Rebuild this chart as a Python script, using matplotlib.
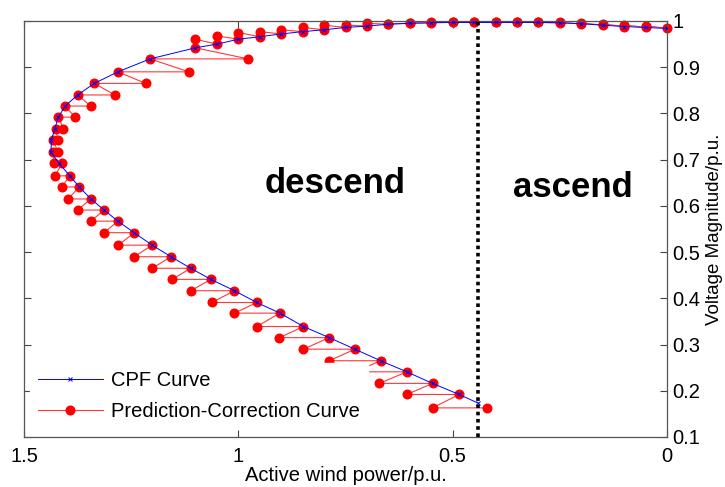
import matplotlib.pyplot as plt

plt.rcParams['font.family'] = ['Liberation Sans', 'DejaVu Sans']

# CPF curve points (active wind power, voltage)
cpf_p = [0, 0.05, 0.1, 0.15, 0.2, 0.25, 0.3, 0.35, 0.4, 0.45, 0.5, 0.55,
         0.6, 0.65, 0.7, 0.75, 0.8, 0.85, 0.9, 0.95, 1.0, 1.05, 1.1,
         1.206, 1.281, 1.336, 1.375, 1.404, 1.420, 1.428, 1.436, 1.437,
         1.418, 1.393, 1.371, 1.344, 1.313, 1.281, 1.243, 1.201, 1.157,
         1.111, 1.064, 1.009, 0.957, 0.903, 0.848, 0.788, 0.728, 0.668,
         0.607, 0.547, 0.485, 0.440]
cpf_v = [0.984, 0.986, 0.988, 0.991, 0.994, 0.996, 0.997, 0.997, 0.997,
         0.997, 0.997, 0.996, 0.995, 0.993, 0.989, 0.986, 0.981, 0.977,
         0.972, 0.966, 0.9605, 0.950, 0.942,
         0.918, 0.890, 0.865, 0.840, 0.816, 0.792, 0.767, 0.743, 0.716,
         0.692, 0.665, 0.641, 0.615, 0.591, 0.567, 0.542, 0.515, 0.490,
         0.465, 0.441, 0.4165, 0.391, 0.368, 0.339, 0.315, 0.290, 0.265,
         0.241, 0.216, 0.192, 0.173]

# prediction-correction, upper flat part (corrector at fixed P)
top_p = [0.05, 0.1, 0.15, 0.2, 0.25, 0.3, 0.35, 0.4, 0.45, 0.5, 0.55,
         0.6, 0.65, 0.7, 0.75, 0.8, 0.85, 0.9, 0.95, 1.0, 1.05, 1.1]
top_pred_v = [0.990, 0.992, 0.994, 0.996, 0.997, 0.997, 0.997, 0.997,
              0.997, 0.997, 0.997, 0.996, 0.994, 0.995, 0.991, 0.991,
              0.986, 0.981, 0.977, 0.975, 0.968, 0.9605]
top_corr_v = [0.986, 0.988, 0.991, 0.994, 0.996, 0.997, 0.997, 0.997,
              0.997, 0.997, 0.996, 0.995, 0.993, 0.989, 0.986, 0.981,
              0.977, 0.972, 0.966, 0.9605, 0.950, 0.942]

# prediction-correction, steep part (corrector at fixed V)
step_v = [0.918, 0.890, 0.865, 0.840, 0.816, 0.792, 0.767, 0.743, 0.716,
          0.692, 0.665, 0.641, 0.615, 0.591, 0.567, 0.542, 0.515, 0.490,
          0.465, 0.441, 0.4165, 0.391, 0.368, 0.339, 0.315, 0.290, 0.265,
          0.241, 0.216, 0.192, 0.163]
pred_p = [0.977, 1.115, 1.216, 1.288, 1.344, 1.381, 1.408, 1.421, 1.421,
          1.429, 1.428, 1.412, 1.397, 1.375, 1.344, 1.313, 1.280, 1.243,
          1.201, 1.155, 1.111, 1.062, 1.009, 0.957, 0.904, 0.848, 0.788,
          0.728, 0.671, 0.607, 0.547]
corr_p = [1.206, 1.281, 1.336, 1.375, 1.404, 1.420, 1.426, 1.432, 1.432,
          1.411, 1.393, 1.371, 1.344, 1.313, 1.281, 1.243, 1.201, 1.157,
          1.111, 1.064, 1.009, 0.957, 0.903, 0.848, 0.788, 0.728, 0.668,
          0.607, 0.547, 0.485, 0.421]

split_p = 0.44

xticks = [1.5, 1, 0.5, 0]
xtick_labels = ['1.5', '1', '0.5', '0']
yticks = [0.1, 0.2, 0.3, 0.4, 0.5, 0.6, 0.7, 0.8, 0.9, 1.0]
ytick_labels = ['0.1', '0.2', '0.3', '0.4', '0.5', '0.6', '0.7', '0.8', '0.9', '1']

# build the zigzag path: start, predictor, corrector, predictor, ...
pc_p = [cpf_p[0]]
pc_v = [cpf_v[0]]
for i in range(len(top_p)):
    pc_p += [top_p[i], top_p[i]]
    pc_v += [top_pred_v[i], top_corr_v[i]]
for i in range(len(step_v)):
    pc_p += [pred_p[i], corr_p[i]]
    pc_v += [step_v[i], step_v[i]]

fig = plt.figure(figsize=(7.25, 4.87), dpi=100)
ax = fig.add_axes([24/725, 50/487, 643/725, 416/487])

ax.plot(cpf_p, cpf_v, color='#0000ff', lw=0.7, marker='x', ms=3.5,
        mew=0.7, label='CPF Curve', zorder=3)
ax.plot(pc_p, pc_v, color='#ff3838', lw=0.8, marker='o', ms=6.2,
        mfc='#ff0000', mec='#ff0000', label='Prediction-Correction Curve',
        zorder=2, clip_on=False)
ax.plot([split_p, split_p], [0.1, 1.0], color='black', lw=2.6,
        linestyle=(0, (1, 1)), zorder=4)

ax.text(0.774, 0.648, 'descend', fontsize=25, fontweight='bold',
        ha='center', va='center')
ax.text(0.219, 0.640, 'ascend', fontsize=25, fontweight='bold',
        ha='center', va='center')

ax.set_xlim(1.5, 0)
ax.set_ylim(0.1, 1.0)
ax.set_xticks(xticks)
ax.set_xticklabels(xtick_labels)
ax.set_yticks(yticks)
ax.set_yticklabels(ytick_labels)
ax.tick_params(direction='in', length=5, width=0.8, colors='#444444',
               labelcolor='black', labelsize=14.5, top=True, bottom=True,
               left=True, right=True, labelleft=False, labelright=True)
ax.tick_params(axis='x', pad=7)
ax.tick_params(axis='y', pad=4)
for s in ax.spines.values():
    s.set_color('#555555')
    s.set_linewidth(0.9)

ax.set_xlabel('Active wind power/p.u.', fontsize=14.5, labelpad=0)
ax.yaxis.set_label_position('right')
ax.set_ylabel('Voltage Magnitude/p.u.', fontsize=13.5)
ax.yaxis.set_label_coords(1.060, 0.5)

leg = ax.legend(loc='lower left', bbox_to_anchor=(0.0, 0.005), fontsize=14.5,
                handlelength=3.2, handletextpad=0.4, frameon=True,
                fancybox=False, borderaxespad=0.3, labelspacing=0.6)
leg.get_frame().set_edgecolor('white')
leg.get_frame().set_facecolor('white')
leg.get_frame().set_alpha(1)
leg.set_zorder(5)

fig.savefig('out.png', dpi=100)
